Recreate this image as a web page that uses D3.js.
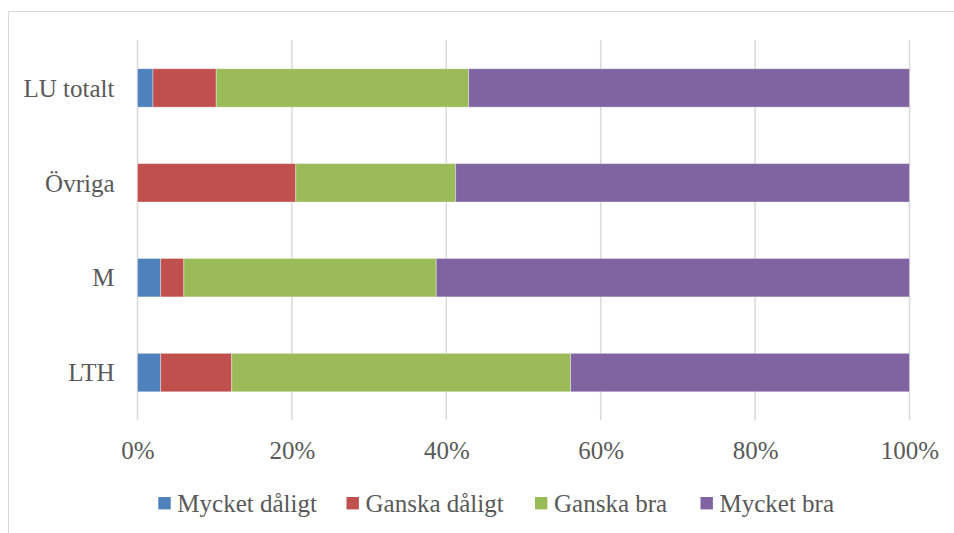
<!DOCTYPE html>
<html><head><meta charset="utf-8">
<script src="https://cdn.jsdelivr.net/npm/d3@7"></script>
<style>body{margin:0;background:#fff;} svg{display:block;}</style>
</head><body>
<svg id="c" width="954" height="533"></svg>
<script>
const categories = ["LU totalt", "Övriga", "M", "LTH"];
const seriesNames = ["Mycket dåligt", "Ganska dåligt", "Ganska bra", "Mycket bra"];
const colors = ["#4f81bd", "#c0504d", "#9bbb59", "#8064a2"];
const mycketDaligt = [2.0, 0.0, 3.0, 3.0];
const ganskaDaligt = [8.2, 20.5, 3.0, 9.2];
const ganskaBra = [32.7, 20.7, 32.7, 43.9];
const mycketBra = [57.1, 58.8, 61.3, 43.9];
const tickValues = [0, 20, 40, 60, 80, 100];

const seriesVals = [mycketDaligt, ganskaDaligt, ganskaBra, mycketBra];
const rows = categories.map((c, i) => {
  const r = {cat: c};
  seriesNames.forEach((s, j) => r[s] = seriesVals[j][i]);
  return r;
});
const stack = d3.stack().keys(seriesNames).offset(d3.stackOffsetExpand)(rows);

const svg = d3.select("#c");
const font = "'Liberation Serif', serif";
const fontSize = 25;
const textColor = "#595959";

// border
svg.append("path").attr("d", "M8.5,533 L8.5,11.5 L954,11.5")
  .attr("fill", "none").attr("stroke", "#d9d9d9").attr("stroke-width", 1);

const x = d3.scaleLinear().domain([0, 1]).range([137.5, 909.5]);
const y = d3.scaleBand().domain(categories).range([40.5, 420]).paddingInner(0.595).paddingOuter(0.2975);

// gridlines
svg.append("g").selectAll("line").data(tickValues).join("line")
  .attr("x1", d => x(d / 100)).attr("x2", d => x(d / 100))
  .attr("y1", 40).attr("y2", 420)
  .attr("stroke", "#d9d9d9").attr("stroke-width", 1.5);

// bars
svg.append("g").selectAll("g").data(stack).join("g")
  .attr("fill", (d, i) => colors[i])
  .selectAll("rect").data(d => d).join("rect")
  .attr("x", d => x(d[0])).attr("width", d => x(d[1]) - x(d[0]))
  .attr("y", d => y(d.data.cat)).attr("height", y.bandwidth())
  .attr("stroke", "rgba(255,255,255,0.35)").attr("stroke-width", 1);

// x axis labels
const xAxis = d3.axisBottom(x).tickValues(tickValues.map(v => v / 100))
  .tickFormat(d => Math.round(d * 100) + "%").tickSize(0).tickPadding(0);
const gx = svg.append("g").attr("transform", "translate(0,441.5)").call(xAxis);
gx.select(".domain").remove();
gx.selectAll("text").attr("font-family", font).attr("font-size", fontSize).attr("fill", textColor);

// y axis labels
const yAxis = d3.axisLeft(y).tickSize(0).tickPadding(23);
const gy = svg.append("g").attr("transform", "translate(137.5,0)").call(yAxis);
gy.select(".domain").remove();
gy.selectAll("text").attr("font-family", font).attr("font-size", fontSize).attr("fill", textColor)
  .attr("dy", "0.35em");

// legend
const legendX = [158.3, 346.5, 535, 700.5];
const lg = svg.append("g").selectAll("g").data(seriesNames).join("g")
  .attr("transform", (d, i) => `translate(${legendX[i]},497)`);
lg.append("rect").attr("width", 12.4).attr("height", 12.4).attr("fill", (d, i) => colors[i]);
lg.append("text").attr("x", 19).attr("y", 14.7)
  .attr("font-family", font).attr("font-size", fontSize).attr("fill", textColor).text(d => d);
</script>
</body></html>
